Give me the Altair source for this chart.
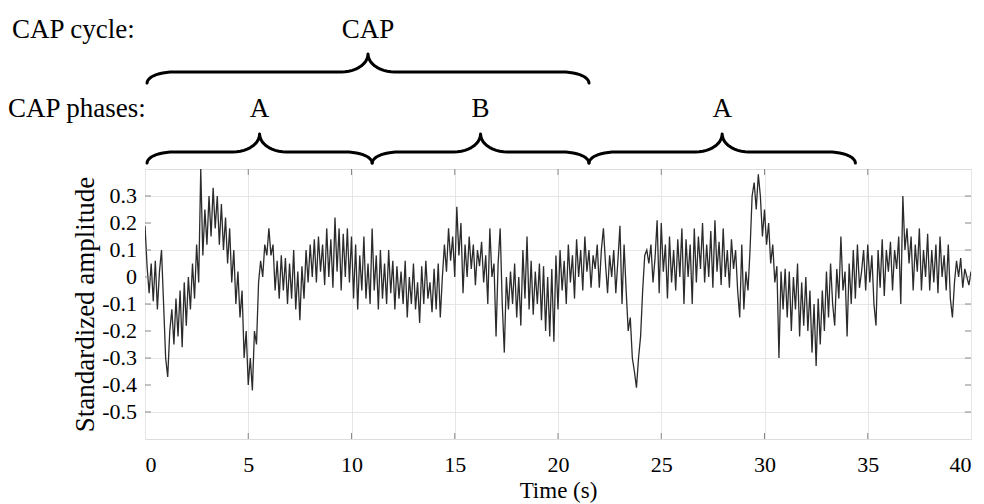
import altair as alt
import pandas as pd
import numpy as np

# ---------------- data (0.1 s sampling) ----------------
sample_step = 0.1
amp_00_09 = [
    0.19, 0.04, -0.06, 0.05, -0.09, 0.06, -0.12, 0.02, 0.10, -0.10,
    -0.30, -0.37, -0.20, -0.12, -0.25, -0.08, -0.22, -0.05, -0.26, -0.02,
    -0.18, 0.00, -0.12, 0.05, -0.08, 0.12, -0.02, 0.40, 0.08, 0.25,
    0.12, 0.30, 0.15, 0.33, 0.18, 0.30, 0.12, 0.27, 0.10, 0.22,
    0.05, 0.18, -0.02, 0.10, -0.10, 0.02, -0.15, -0.05, -0.30, -0.20,
    -0.40, -0.30, -0.42, -0.20, -0.25, -0.02, 0.06, 0.00, 0.12, 0.08,
    0.18, 0.08, 0.12, -0.05, 0.06, -0.08, 0.08, -0.05, 0.07, -0.10,
    0.05, -0.08, 0.10, -0.12, 0.02, -0.16, 0.04, -0.08, 0.10, -0.02,
    0.12, 0.00, 0.14, -0.02, 0.15, 0.02, 0.12, -0.03, 0.18, 0.00,
    0.14, -0.04, 0.22, 0.02, 0.18, -0.05, 0.16, 0.00, 0.18, -0.02,
]
amp_10_19 = [
    0.15, -0.08, 0.12, -0.12, 0.08, -0.05, 0.15, -0.08, 0.05, -0.10,
    0.18, -0.05, 0.08, -0.12, 0.10, -0.08, 0.05, -0.10, 0.10, -0.06,
    0.06, -0.12, 0.04, -0.08, 0.02, -0.10, 0.06, -0.15, 0.00, -0.10,
    0.05, -0.12, -0.02, -0.17, 0.04, -0.10, 0.06, -0.08, -0.02, -0.13,
    0.03, -0.12, 0.05, -0.15, 0.00, 0.12, 0.02, 0.18, 0.06, 0.15,
    0.00, 0.26, 0.08, 0.20, -0.06, 0.12, 0.00, 0.15, 0.03, 0.12,
    -0.03, 0.10, 0.04, 0.13, -0.02, 0.08, -0.10, 0.18, 0.00, 0.05,
    -0.22, 0.05, 0.18, -0.10, -0.28, 0.00, -0.12, 0.02, -0.10, 0.05,
    -0.15, 0.00, -0.18, 0.10, -0.08, 0.15, -0.12, 0.06, -0.14, 0.02,
    -0.10, 0.05, -0.16, 0.04, -0.20, 0.00, -0.22, 0.03, -0.24, 0.08,
]
amp_20_29 = [
    -0.12, 0.10, -0.05, 0.06, -0.10, 0.12, -0.02, 0.08, -0.08, 0.14,
    0.00, 0.10, -0.05, 0.15, 0.02, 0.10, -0.04, 0.08, 0.03, 0.12,
    -0.04, 0.10, 0.18, 0.05, -0.06, 0.08, 0.00, 0.10, -0.06, 0.06,
    0.19, -0.10, 0.12, -0.05, -0.20, -0.15, -0.30, -0.35, -0.41, -0.30,
    -0.22, -0.05, 0.08, 0.10, 0.05, 0.12, -0.02, 0.07, 0.21, -0.06,
    0.20, 0.02, 0.12, -0.08, 0.15, -0.02, 0.10, -0.05, 0.14, 0.00,
    0.18, -0.10, 0.14, 0.00, 0.12, -0.10, 0.18, -0.02, 0.15, 0.03,
    0.20, -0.02, 0.12, 0.00, 0.17, -0.04, 0.21, 0.02, 0.13, -0.03,
    0.18, 0.00, 0.10, -0.04, 0.14, 0.03, 0.10, -0.05, -0.15, 0.12,
    -0.12, 0.02, -0.05, 0.10, 0.30, 0.35, 0.25, 0.38, 0.30, 0.15,
]
amp_30_40 = [
    0.25, 0.12, 0.20, 0.05, 0.12, -0.02, 0.04, -0.30, 0.02, -0.12,
    0.03, -0.15, 0.02, -0.20, 0.00, -0.12, 0.05, -0.22, -0.02, -0.18,
    0.00, -0.20, -0.05, -0.28, -0.10, -0.33, -0.08, -0.25, -0.05, -0.20,
    0.02, -0.15, 0.05, -0.10, -0.18, 0.03, -0.08, 0.15, -0.05, 0.02,
    -0.22, 0.05, -0.10, 0.10, -0.08, 0.12, -0.04, 0.02, 0.10, -0.05,
    0.12, -0.02, 0.08, -0.10, -0.18, 0.10, -0.04, 0.14, -0.07, 0.10,
    0.02, 0.13, -0.05, 0.10, 0.03, 0.15, -0.10, 0.30, 0.10, 0.18,
    0.05, 0.15, -0.05, 0.12, 0.02, 0.18, -0.05, 0.10, 0.00, 0.16,
    -0.05, 0.10, -0.02, 0.12, -0.06, 0.15, 0.00, 0.08, -0.05, 0.12,
    -0.08, -0.15, -0.02, 0.06, 0.00, 0.07, -0.04, 0.03, 0.00, -0.03,
    0.02,
]

x_ticks = [0, 5, 10, 15, 20, 25, 30, 35, 40]
y_ticks = [-0.5, -0.4, -0.3, -0.2, -0.1, 0.0, 0.1, 0.2, 0.3]
y_tick_labels = ["-0.5", "-0.4", "-0.3", "-0.2", "-0.1", "0", "0.1", "0.2", "0.3"]

# annotation: CAP cycle / phases (start, end in seconds)
cycle_spans = [(0.1, 21.5)]
phase_spans = [(0.1, 11.0), (11.0, 21.5), (21.5, 34.4)]
cycle_labels = ["CAP"]
phase_labels = ["A", "B", "A"]
row_titles = ["CAP cycle:", "CAP phases:"]

# ---------------- build tables ----------------
amp = amp_00_09 + amp_10_19 + amp_20_29 + amp_30_40
signal = pd.DataFrame({"t": np.round(np.arange(len(amp)) * sample_step, 2), "v": amp})

X_DOMAIN = [0, 40]
Y_DOMAIN = [-0.6, 0.4]
W, H = 826, 270
px_x = (X_DOMAIN[1] - X_DOMAIN[0]) / W   # seconds per pixel
px_y = (Y_DOMAIN[1] - Y_DOMAIN[0]) / H   # units per pixel


def y_at(py):  # page pixel (top of plot = 169) to data units
    return Y_DOMAIN[1] + (169 - py) * px_y


def brace(x0, x1, y_end, y_mid, y_tip, w, bid):
    xm = (x0 + x1) / 2
    pts = []
    th = np.linspace(np.pi, np.pi / 2, 12)
    pts += [(x0 + w + w * np.cos(a), y_end + (y_mid - y_end) * np.sin(a)) for a in th]
    th = np.linspace(-np.pi / 2, 0, 12)
    pts += [(xm - w + w * np.cos(a), y_tip + (y_tip - y_mid) * np.sin(a)) for a in th]
    th = np.linspace(np.pi, 3 * np.pi / 2, 12)
    pts += [(xm + w + w * np.cos(a), y_tip + (y_tip - y_mid) * np.sin(a)) for a in th]
    th = np.linspace(np.pi / 2, 0, 12)
    pts += [(x1 - w + w * np.cos(a), y_end + (y_mid - y_end) * np.sin(a)) for a in th]
    return [{"bx": p[0], "by": p[1], "bid": bid, "o": i} for i, p in enumerate(pts)]


rows = []
for i, (a, b) in enumerate(cycle_spans):
    rows += brace(a, b, y_at(83), y_at(72), y_at(54), 1.3, f"c{i}")
for i, (a, b) in enumerate(phase_spans):
    rows += brace(a, b, y_at(163), y_at(152), y_at(134), 1.3, f"p{i}")
braces = pd.DataFrame(rows)

centre_text = pd.DataFrame(
    [{"x": (a + b) / 2, "y": y_at(30), "txt": l} for (a, b), l in zip(cycle_spans, cycle_labels)]
    + [{"x": (a + b) / 2, "y": y_at(109), "txt": l} for (a, b), l in zip(phase_spans, phase_labels)]
)
left_text = pd.DataFrame({
    "x": [X_DOMAIN[0] - 133 * px_x, X_DOMAIN[0] - 137 * px_x],
    "y": [y_at(30), y_at(109)],
    "txt": row_titles,
})
ylab = pd.DataFrame({"x": [X_DOMAIN[0] - 8 * px_x] * len(y_ticks), "y": y_ticks, "txt": y_tick_labels})

tick_len_x = 6 * px_x
tick_len_y = 6 * px_y
ticks = pd.DataFrame(
    [{"x": v, "x2": v, "y": Y_DOMAIN[0], "y2": Y_DOMAIN[0] + tick_len_y} for v in x_ticks[1:-1]]
    + [{"x": v, "x2": v, "y": Y_DOMAIN[1], "y2": Y_DOMAIN[1] - tick_len_y} for v in x_ticks[1:-1]]
    + [{"x": X_DOMAIN[0], "x2": X_DOMAIN[0] + tick_len_x, "y": v, "y2": v} for v in y_ticks]
    + [{"x": X_DOMAIN[1], "x2": X_DOMAIN[1] - tick_len_x, "y": v, "y2": v} for v in y_ticks]
)

FONT = "Liberation Serif"

xs = alt.Scale(domain=X_DOMAIN, nice=False, zero=False)
ys = alt.Scale(domain=Y_DOMAIN, nice=False, zero=False)

line = alt.Chart(signal).mark_line(color="#2b2b2b", strokeWidth=1.3, clip=True).encode(
    x=alt.X("t:Q", scale=xs, axis=alt.Axis(
        values=x_ticks, title="Time (s)", grid=True, ticks=False, domain=False,
        labelOverlap=False,
        labelFontSize=22, titleFontSize=23, labelPadding=15, titlePadding=4,
        labelFont=FONT, titleFont=FONT, labelColor="black", titleColor="black",
        titleFontWeight="normal", gridColor="#e6e6e6")),
    y=alt.Y("v:Q", scale=ys, axis=alt.Axis(
        values=y_ticks, title="Standardized amplitude", grid=True, ticks=False, domain=False,
        labels=False, titleFontSize=27, titlePadding=46,
        titleFont=FONT, titleColor="black",
        titleFontWeight="normal", gridColor="#e6e6e6")),
)

tick_marks = alt.Chart(ticks).mark_rule(color="#888888", strokeWidth=1).encode(
    x="x:Q", x2="x2:Q", y="y:Q", y2="y2:Q")

ylabels = alt.Chart(ylab).mark_text(font=FONT, fontSize=22, color="black",
                                    align="right", baseline="middle", clip=False).encode(
    x="x:Q", y="y:Q", text="txt:N")

brace_marks = alt.Chart(braces).mark_line(color="black", strokeWidth=3, clip=False,
                                          strokeCap="round", strokeJoin="round").encode(
    x="bx:Q", y="by:Q", detail="bid:N", order="o:Q")

ctext = alt.Chart(centre_text).mark_text(font=FONT, fontSize=27, color="black",
                                         align="center", baseline="middle", clip=False).encode(
    x="x:Q", y="y:Q", text="txt:N")
ltext = alt.Chart(left_text).mark_text(font=FONT, fontSize=27, color="black",
                                       align="left", baseline="middle", clip=False).encode(
    x="x:Q", y="y:Q", text="txt:N")

chart = alt.layer(line, tick_marks, ylabels, brace_marks, ctext, ltext).properties(
    width=W, height=H,
    autosize=alt.AutoSizeParams(type="none"),
    padding={"left": 145, "top": 169, "right": 13, "bottom": 65},
).configure_view(stroke="#888888", strokeWidth=1.2).configure(background="white")

chart.save("out.html", embed_options={"renderer": "svg", "actions": False})
